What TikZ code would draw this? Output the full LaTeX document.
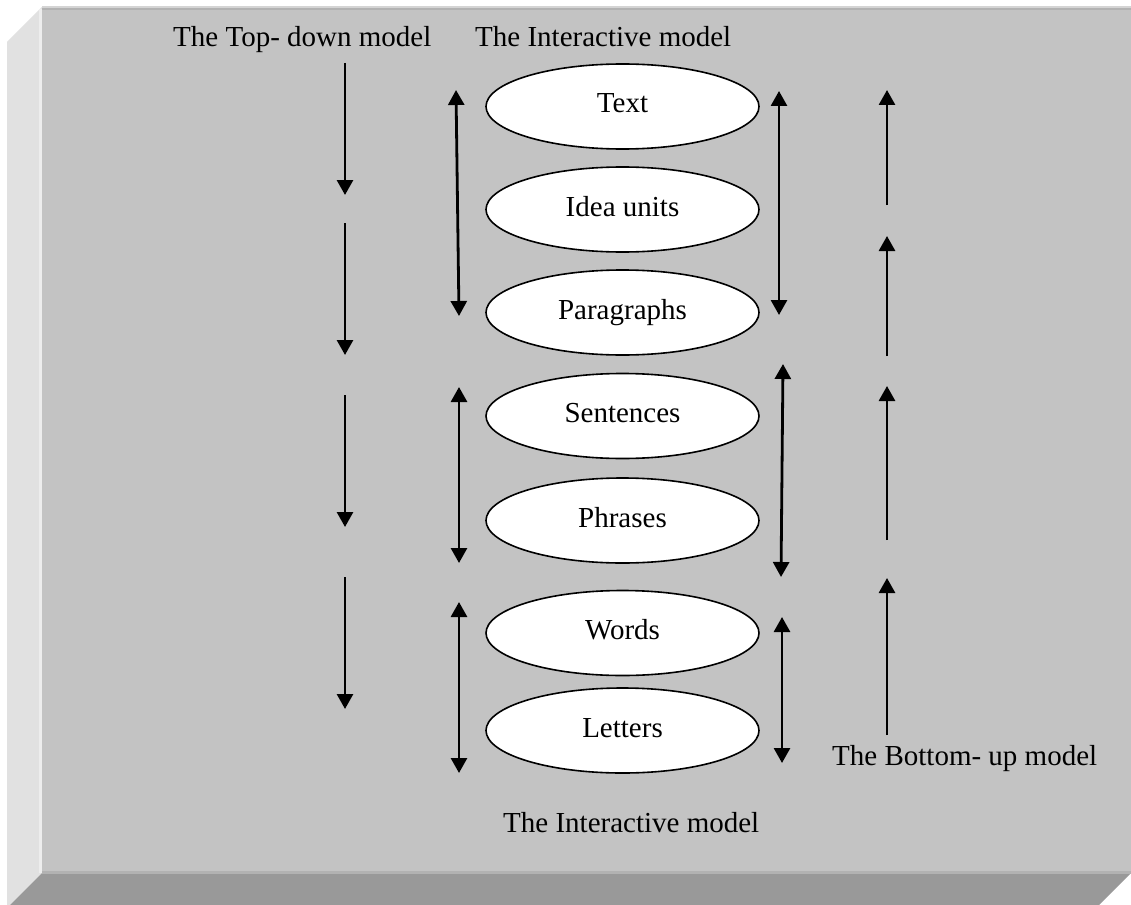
\documentclass[tikz,border=0pt]{standalone}
\usepackage{fontspec}
\setmainfont{Liberation Serif}
\usetikzlibrary{arrows.meta,shapes.geometric}
\definecolor{face}{RGB}{195,195,195}
\definecolor{sideface}{RGB}{225,225,225}
\definecolor{bottomface}{RGB}{153,153,153}
\definecolor{edgedark}{RGB}{178,178,178}
\definecolor{edgelight}{RGB}{212,212,212}
\tikzset{
  lvl/.style={ellipse, draw=black, line width=1.6pt, fill=white, minimum width=273pt, minimum height=85pt, inner sep=0pt, text height=20pt, text depth=7pt},
  lbl/.style={anchor=base west, inner sep=0pt},
  arr/.style={line width=2.8pt, -{Triangle[width=16pt,length=15pt]}},
  darr/.style={line width=2.8pt, {Triangle[width=16pt,length=15pt]}-{Triangle[width=16pt,length=15pt]}}
}
\begin{document}
\begin{tikzpicture}[x=1pt,y=-1pt, font=\fontsize{29}{34}\selectfont]
\useasboundingbox (0,0) rectangle (1131,904);
% 3D frame
\fill[white] (0,0) rectangle (1131,904);
\fill[sideface] (7,42) -- (42,7) -- (42,873) -- (7,908) -- cycle;
\fill[white!93!black] (39,9) rectangle (42,873);
\fill[bottomface] (42,873) -- (1131,873) -- (1096,908) -- (7,908) -- cycle;
\fill[face] (42,7) rectangle (1131,873);
\fill[edgelight] (42,6.5) rectangle (1131,8);
\fill[edgedark] (42,8) rectangle (1131,10);
\fill[edgedark] (42,871) rectangle (1131,874);
% levels
\node[lvl] (text) at (622.5,106.5) {Text};
\node[lvl] (idea) at (622.5,209.5) {Idea units};
\node[lvl] (para) at (622.5,312.5) {Paragraphs};
\node[lvl] (sent) at (622.5,416) {Sentences};
\node[lvl] (phra) at (622.5,520.5) {Phrases};
\node[lvl] (word) at (622.5,633) {Words};
\node[lvl] (lett) at (622.5,730.5) {Letters};
% labels
\node[lbl] (tdl) at (173,47) {The Top- down model};
\node[lbl] (itl) at (475,47) {The Interactive model};
\node[lbl] (bul) at (832,765) {The Bottom- up model};
\node[lbl] (ibl) at (503,832) {The Interactive model};
% top-down arrows
\coordinate (td1s) at (345,63);  \coordinate (td1e) at (345,195);
\coordinate (td2s) at (345,223); \coordinate (td2e) at (345,355);
\coordinate (td3s) at (345,395); \coordinate (td3e) at (345,527);
\coordinate (td4s) at (345,577); \coordinate (td4e) at (345,709);
\draw[arr] (td1s) -- (td1e);
\draw[arr] (td2s) -- (td2e);
\draw[arr] (td3s) -- (td3e);
\draw[arr] (td4s) -- (td4e);
% interactive left
\coordinate (il1a) at (456,90);  \coordinate (il1b) at (459,316);
\coordinate (il2a) at (459,387); \coordinate (il2b) at (459,563);
\coordinate (il3a) at (459,602); \coordinate (il3b) at (459,773);
\draw[darr] (il1a) -- (il1b);
\draw[darr] (il2a) -- (il2b);
\draw[darr] (il3a) -- (il3b);
% interactive right
\coordinate (ir1a) at (779,91);  \coordinate (ir1b) at (779,315);
\coordinate (ir2a) at (783,364); \coordinate (ir2b) at (781,577);
\coordinate (ir3a) at (782,617); \coordinate (ir3b) at (782,763);
\draw[darr] (ir1a) -- (ir1b);
\draw[darr] (ir2a) -- (ir2b);
\draw[darr] (ir3a) -- (ir3b);
% bottom-up arrows
\coordinate (bu1s) at (887,205); \coordinate (bu1e) at (887,90);
\coordinate (bu2s) at (887,356); \coordinate (bu2e) at (887,236);
\coordinate (bu3s) at (887,540); \coordinate (bu3e) at (887,386);
\coordinate (bu4s) at (887,735); \coordinate (bu4e) at (887,578);
\draw[arr] (bu1s) -- (bu1e);
\draw[arr] (bu2s) -- (bu2e);
\draw[arr] (bu3s) -- (bu3e);
\draw[arr] (bu4s) -- (bu4e);
\end{tikzpicture}
\end{document}
